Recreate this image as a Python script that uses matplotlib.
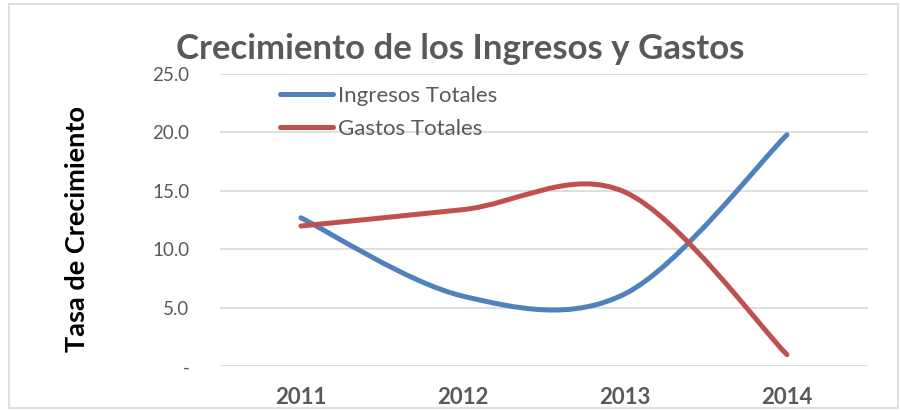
import numpy as np
import matplotlib.pyplot as plt
from matplotlib.path import Path
from matplotlib.patches import PathPatch, Rectangle
from matplotlib.lines import Line2D

plt.rcParams["font.family"] = ["Lato", "DejaVu Sans"]

years = ["2011", "2012", "2013", "2014"]
ingresos = [12.7, 6.0, 6.2, 19.8]
gastos = [12.0, 13.4, 14.9, 1.0]
yticks = [0, 5, 10, 15, 20, 25]
ytick_labels = ["-", "5.0", "10.0", "15.0", "20.0", "25.0"]

BLUE = "#4F81BD"
RED = "#C0504D"
GRAY = "#595959"


def smooth_path(xs, ys):
    # excel-style smoothed line: cubic bezier segments through the points
    pts = np.column_stack([xs, ys]).astype(float)
    n = len(pts)
    verts = [pts[0]]
    codes = [Path.MOVETO]
    for i in range(n - 1):
        p0 = pts[max(i - 1, 0)]
        p1 = pts[i]
        p2 = pts[i + 1]
        p3 = pts[min(i + 2, n - 1)]
        c1 = p1 + (p2 - p0) / 6.0
        c2 = p2 - (p3 - p1) / 6.0
        verts += [c1, c2, p2]
        codes += [Path.CURVE4] * 3
    return Path(verts, codes)


fig = plt.figure(figsize=(9, 4.11), dpi=100)
ax = fig.add_axes([0.2444, 0.1087, 0.72, 0.7113])

x = np.arange(len(years))
for vals, color in [(ingresos, BLUE), (gastos, RED)]:
    patch = PathPatch(smooth_path(x, vals), facecolor="none", edgecolor=color,
                      lw=3.6, capstyle="round", joinstyle="round", zorder=3)
    ax.add_patch(patch)

ax.set_xlim(-0.5, len(years) - 0.5)
ax.set_ylim(0, 25)
ax.set_yticks(yticks)
ax.set_yticklabels(ytick_labels)
ax.set_xticks(x)
ax.set_xticklabels(years, fontweight="bold")
ax.grid(axis="y", color="#D9D9D9", lw=1.2)
ax.set_axisbelow(True)
for s in ax.spines.values():
    s.set_visible(False)
ax.tick_params(axis="both", length=0, colors=GRAY, labelsize=13.5)
ax.tick_params(axis="y", pad=22)
ax.tick_params(axis="x", pad=15, labelsize=16)

fig.text(77 / 900, 1 - 229 / 411, "Tasa de Crecimiento", rotation=90,
         ha="center", va="center", fontsize=19.5, fontweight="bold", color="black")

fig.text(0.511, 1 - 59 / 411, "Crecimiento de los Ingresos y Gastos", ha="center",
         va="baseline", fontsize=25, fontweight="bold", color=GRAY)

handles = [Line2D([], [], color=BLUE, lw=3.6, solid_capstyle="round"),
           Line2D([], [], color=RED, lw=3.6, solid_capstyle="round")]
fig.legend(handles, ["Ingresos Totales", "Gastos Totales"], loc="upper left",
           bbox_to_anchor=(280 / 900, 1 - 86 / 411), frameon=False, fontsize=16,
           handlelength=2.4, handletextpad=0.22, labelspacing=0.57,
           labelcolor=GRAY, borderaxespad=0, borderpad=0)

fig.patches.append(Rectangle((9 / 900, 3 / 411), 889 / 900, 404 / 411,
                             transform=fig.transFigure, fill=False,
                             edgecolor="#D9D9D9", lw=1.2))

fig.savefig("out.png", dpi=100)
